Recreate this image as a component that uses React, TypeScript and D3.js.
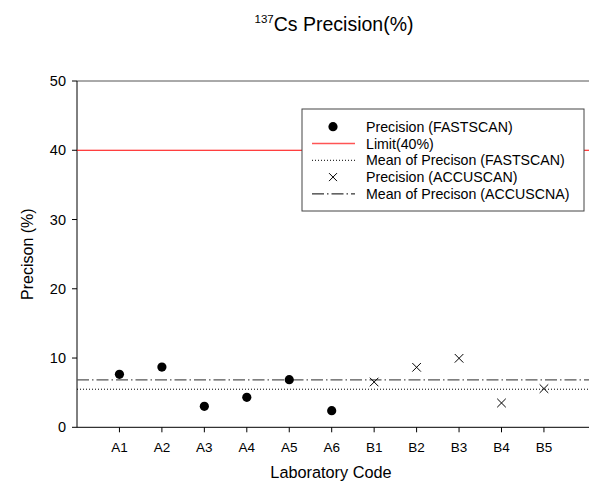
import React from "react";
import * as d3 from "d3";

const labs = ["A1", "A2", "A3", "A4", "A5", "A6", "B1", "B2", "B3", "B4", "B5"];
const fastscan = [7.65, 8.7, 3.03, 4.33, 6.87, 2.4];
const accuscan = [6.54, 8.66, 9.96, 3.51, 5.58];
const yTicks = [0, 10, 20, 30, 40, 50];
const limit = 40;
const legendItems = [
  "Precision (FASTSCAN)",
  "Limit(40%)",
  "Mean of Precison (FASTSCAN)",
  "Precision (ACCUSCAN)",
  "Mean of Precison (ACCUSCNA)",
];

const W = 589;
const H = 487;
const font = "Liberation Sans, Arial, sans-serif";

export default function App() {
  const x = d3.scaleLinear().domain([0, 12.5]).range([77, 77 + 12.5 * 42.45]);
  const y = d3.scaleLinear().domain([0, 50]).range([427.3, 81]);
  const meanF = d3.mean(fastscan) as number;
  const meanA = d3.mean(accuscan) as number;
  const x0 = x(0);
  const x1 = x(12.5);

  const legX = 302;
  const legY = 109;
  const legW = 282;
  const legH = 102;
  const rowY = (i: number) => 126.7 + i * 16.8;
  const symX = 333;

  return (
    <svg
      width={W}
      height={H}
      style={{ position: "absolute", left: 0, top: 0, background: "#fff" }}
      fontFamily={font}
    >
      {/* title */}
      <text x={334} y={31} textAnchor="middle" fontSize={19.5} fill="#000">
        <tspan fontSize={11.5} dy={-8}>137</tspan>
        <tspan dy={8}>Cs Precision(%)</tspan>
      </text>

      {/* frame */}
      <line x1={x0} x2={x1} y1={y(50)} y2={y(50)} stroke="#555" strokeWidth={1} />
      <line x1={x0} x2={x0} y1={y(50)} y2={y(0)} stroke="#000" strokeWidth={1} />
      <line x1={x0} x2={x1} y1={y(0)} y2={y(0)} stroke="#000" strokeWidth={1} />

      {/* y ticks */}
      {yTicks.map((t) => (
        <g key={t}>
          <line x1={x0 - 5} x2={x0} y1={y(t)} y2={y(t)} stroke="#000" />
          <text x={x0 - 11} y={y(t) + 5} textAnchor="end" fontSize={14.5} fill="#000">
            {t}
          </text>
        </g>
      ))}

      {/* x ticks */}
      {labs.map((l, i) => (
        <g key={l}>
          <line x1={x(i + 1)} x2={x(i + 1)} y1={y(0)} y2={y(0) + 5} stroke="#000" />
          <text x={x(i + 1)} y={y(0) + 24.3} textAnchor="middle" fontSize={13.5} fill="#000">
            {l}
          </text>
        </g>
      ))}

      {/* axis titles */}
      <text x={331} y={478} textAnchor="middle" fontSize={16.3} fill="#000">
        Laboratory Code
      </text>
      <text
        transform={`translate(33,${(y(0) + y(50)) / 2}) rotate(-90)`}
        textAnchor="middle"
        fontSize={16}
        fill="#000"
      >
        Precison (%)
      </text>

      {/* limit line */}
      <line x1={x0} x2={x1} y1={y(limit)} y2={y(limit)} stroke="#ff0000" strokeWidth={1} />

      {/* mean lines */}
      <line
        x1={x0}
        x2={x1}
        y1={y(meanA)}
        y2={y(meanA)}
        stroke="#555"
        strokeWidth={1.2}
        strokeDasharray="12,3,1.5,3"
      />
      <line
        x1={x0}
        x2={x1}
        y1={y(meanF)}
        y2={y(meanF)}
        stroke="#000"
        strokeWidth={1}
        strokeDasharray="1,2"
      />

      {/* fastscan points */}
      {fastscan.map((v, i) => (
        <circle key={"f" + i} cx={x(i + 1)} cy={y(v)} r={4.6} fill="#000" />
      ))}

      {/* accuscan points */}
      {accuscan.map((v, i) => {
        const cx = x(i + 7);
        const cy = y(v);
        const s = 4.3;
        return (
          <g key={"a" + i} stroke="#000" strokeWidth={1}>
            <line x1={cx - s} x2={cx + s} y1={cy - s} y2={cy + s} />
            <line x1={cx - s} x2={cx + s} y1={cy + s} y2={cy - s} />
          </g>
        );
      })}

      {/* legend */}
      <rect x={legX} y={legY} width={legW} height={legH} fill="#fff" stroke="#444" strokeWidth={1} />
      <circle cx={symX} cy={rowY(0)} r={4.6} fill="#000" />
      <line x1={312} x2={355} y1={rowY(1)} y2={rowY(1)} stroke="#ff5555" strokeWidth={1.5} />
      <line x1={312} x2={355} y1={rowY(2)} y2={rowY(2)} stroke="#000" strokeDasharray="1,2" />
      <g stroke="#000" strokeWidth={1}>
        <line x1={symX - 4} x2={symX + 4} y1={rowY(3) - 4} y2={rowY(3) + 4} />
        <line x1={symX - 4} x2={symX + 4} y1={rowY(3) + 4} y2={rowY(3) - 4} />
      </g>
      <line
        x1={312}
        x2={355}
        y1={rowY(4)}
        y2={rowY(4)}
        stroke="#000"
        strokeDasharray="12,3,1.5,3"
      />
      {legendItems.map((t, i) => (
        <text key={t} x={366} y={rowY(i) + 5} fontSize={14.2} fill="#000">
          {t}
        </text>
      ))}
    </svg>
  );
}
